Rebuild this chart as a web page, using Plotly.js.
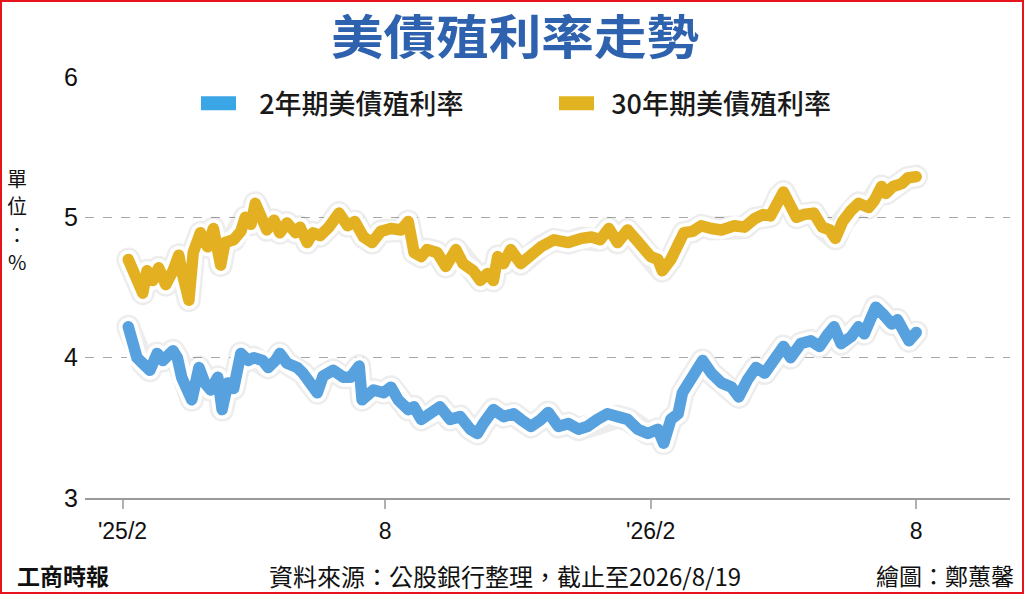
<!DOCTYPE html>
<html>
<head>
<meta charset="utf-8">
<script src="https://cdn.plot.ly/plotly-3.0.1.min.js"></script>
<style>
  html, body { margin: 0; padding: 0; background: #fff; }
  #wrap { position: relative; width: 1024px; height: 594px; }
  #chart { width: 1024px; height: 594px; }
  #frame { position: absolute; left: 0; top: 0; width: 1024px; height: 594px; box-sizing: border-box; border: 2px solid #e8141b; pointer-events: none; }
  .scatterlayer .js-line { stroke-linejoin: round !important; stroke-linecap: round !important; }
  .legend .js-line { stroke-linecap: butt !important; stroke-width: 14px !important; }
  .gtitle { transform-box: fill-box; transform-origin: center; transform: scaleX(1.12); }
</style>
</head>
<body>
<div id="wrap"><div id="chart"></div><div id="frame"></div></div>
<script>
// ---- data ----
const dates2y = [
 '2025-02-19','2025-02-22','2025-02-25','2025-03-01','2025-03-06','2025-03-11','2025-03-15','2025-03-22','2025-03-25','2025-03-28',
 '2025-04-01','2025-04-04','2025-04-09','2025-04-13','2025-04-17','2025-04-22','2025-04-25','2025-04-29','2025-05-03','2025-05-08',
 '2025-05-13','2025-05-17','2025-05-23','2025-05-27','2025-06-01','2025-06-04','2025-06-09','2025-06-16','2025-06-20','2025-06-25',
 '2025-06-30','2025-07-04','2025-07-11','2025-07-18','2025-07-23','2025-07-29','2025-07-31','2025-08-08','2025-08-15','2025-08-20',
 '2025-08-25','2025-09-01','2025-09-05','2025-09-10','2025-09-17','2025-09-23','2025-09-30','2025-10-07','2025-10-14','2025-10-19',
 '2025-10-23','2025-10-30','2025-11-06','2025-11-13','2025-11-18','2025-11-25','2025-12-02','2025-12-07','2025-12-14','2025-12-21',
 '2025-12-28','2026-01-03','2026-01-10','2026-01-17','2026-01-24','2026-01-31','2026-02-07','2026-02-14','2026-02-21','2026-02-25',
 '2026-03-02','2026-03-07','2026-03-10','2026-03-16','2026-03-21','2026-03-24','2026-03-30','2026-04-06','2026-04-13','2026-04-18',
 '2026-04-24','2026-04-30','2026-05-06','2026-05-13','2026-05-19','2026-05-24','2026-05-31','2026-06-07','2026-06-13','2026-06-19',
 '2026-06-23','2026-06-28','2026-07-05','2026-07-10','2026-07-14','2026-07-19','2026-07-22','2026-07-27','2026-08-02','2026-08-06',
 '2026-08-11','2026-08-14','2026-08-19'
];
const yield2y = [
 4.22,4.10,4.00,3.96,3.91,4.03,3.98,4.05,4.00,3.86,
 3.79,3.70,3.93,3.82,3.77,3.86,3.63,3.82,3.78,4.03,
 3.98,4.00,3.98,3.93,3.98,4.03,3.96,3.93,3.89,3.82,
 3.75,3.87,3.91,3.86,3.86,3.94,3.70,3.77,3.75,3.79,
 3.70,3.63,3.65,3.56,3.60,3.65,3.56,3.58,3.49,3.46,
 3.53,3.63,3.58,3.60,3.56,3.51,3.56,3.61,3.51,3.53,
 3.49,3.51,3.56,3.60,3.58,3.56,3.49,3.46,3.49,3.39,
 3.56,3.60,3.75,3.84,3.93,3.98,3.89,3.82,3.79,3.72,
 3.84,3.93,3.89,4.00,4.08,4.00,4.10,4.12,4.08,4.17,
 4.22,4.10,4.15,4.22,4.17,4.29,4.36,4.31,4.24,4.27,
 4.15,4.12,4.18
];
const dates30y = [
 '2025-02-19','2025-02-24','2025-03-01','2025-03-04','2025-03-08','2025-03-12','2025-03-17','2025-03-22','2025-03-26','2025-03-28',
 '2025-04-02','2025-04-05','2025-04-10','2025-04-15','2025-04-19','2025-04-24','2025-04-27','2025-05-03','2025-05-08','2025-05-11',
 '2025-05-15','2025-05-18','2025-05-23','2025-05-26','2025-05-31','2025-06-04','2025-06-09','2025-06-15','2025-06-18','2025-06-23',
 '2025-06-27','2025-07-02','2025-07-08','2025-07-15','2025-07-21','2025-07-26','2025-08-01','2025-08-07','2025-08-13','2025-08-20',
 '2025-08-27','2025-09-01','2025-09-05','2025-09-10','2025-09-14','2025-09-21','2025-09-27','2025-10-04','2025-10-09','2025-10-16',
 '2025-10-21','2025-10-26','2025-10-30','2025-11-02','2025-11-06','2025-11-11','2025-11-18','2025-11-25','2025-12-02','2025-12-11',
 '2025-12-21','2025-12-30','2026-01-06','2026-01-12','2026-01-18','2026-01-24','2026-01-31','2026-02-06','2026-02-11','2026-02-16',
 '2026-02-21','2026-02-24','2026-03-02','2026-03-07','2026-03-11','2026-03-17','2026-03-23','2026-03-30','2026-04-06','2026-04-15',
 '2026-04-22','2026-04-29','2026-05-05','2026-05-10','2026-05-16','2026-05-19','2026-05-23','2026-05-28','2026-06-02','2026-06-09',
 '2026-06-15','2026-06-20','2026-06-24','2026-06-29','2026-07-05','2026-07-10','2026-07-17','2026-07-21','2026-07-26','2026-07-29',
 '2026-08-03','2026-08-09','2026-08-13','2026-08-19'
];
const yield30y = [
 4.70,4.55,4.46,4.62,4.55,4.64,4.52,4.62,4.73,4.62,
 4.41,4.75,4.89,4.79,4.92,4.66,4.82,4.84,4.90,5.00,
 4.95,5.10,5.00,4.91,4.98,4.89,4.96,4.89,4.93,4.82,
 4.89,4.87,4.93,5.03,4.94,4.97,4.86,4.82,4.90,4.92,
 4.91,4.97,4.75,4.72,4.77,4.75,4.65,4.77,4.67,4.62,
 4.55,4.60,4.55,4.72,4.67,4.77,4.67,4.74,4.79,4.84,
 4.82,4.85,4.86,4.84,4.92,4.82,4.91,4.84,4.77,4.72,
 4.70,4.62,4.70,4.79,4.89,4.90,4.94,4.92,4.91,4.94,
 4.93,4.99,5.02,5.01,5.15,5.18,5.10,5.00,5.02,5.03,
 4.93,4.91,4.85,4.97,5.05,5.10,5.07,5.12,5.22,5.17,
 5.22,5.24,5.28,5.29
];
const seriesNames = ['2年期美債殖利率', '30年期美債殖利率'];
const tickDates = ['2025-02-15', '2025-08-16', '2026-02-16', '2026-08-19'];
const tickLabels = ["'25/2", '8', "'26/2", '8'];
const yTicks = [3, 4, 5, 6];
const unitChars = ['單', '位', '：', '%'];

// ---- styling ----
const BLUE = '#56a1de';
const GOLD = '#e2b020';
const CJK = '"Noto Sans CJK TC", "Noto Sans CJK SC", sans-serif';
const NUM = '"Liberation Sans Narrow", "Liberation Sans", Arial, sans-serif';

function layered(x, y, color) {
  const base = {x: x, y: y, mode: 'lines', type: 'scatter', hoverinfo: 'skip', showlegend: false};
  return [
    Object.assign({}, base, {line: {color: 'rgba(0,0,0,0.07)', width: 24}}),
    Object.assign({}, base, {line: {color: '#ffffff', width: 19}}),
    Object.assign({}, base, {line: {color: color, width: 11.5}})
  ];
}

const traces = [].concat(
  layered(dates2y, yield2y, BLUE),
  layered(dates30y, yield30y, GOLD),
  [
    {x: [null], y: [null], mode: 'lines', type: 'scatter', name: '\u00a0\u00a0\u00a0' + seriesNames[0], line: {color: '#3aa6e6', width: 14}, showlegend: true},
    {x: [null], y: [null], mode: 'lines', type: 'scatter', name: '\u00a0\u00a0' + seriesNames[1], line: {color: '#e1b320', width: 14}, showlegend: true}
  ]
);

const unitY = [0.760, 0.694, 0.627, 0.561];
const footY = -0.184;
const annotations = unitChars.map((c, i) => ({
  xref: 'paper', yref: 'paper', x: -0.073, y: unitY[i], xanchor: 'center', yanchor: 'middle', showarrow: false,
  text: c, font: {family: CJK, size: 20, color: '#111'}
})).concat([
  {xref: 'paper', yref: 'paper', x: -0.076, y: footY, xanchor: 'left', yanchor: 'middle', showarrow: false,
   text: '<b>工商時報</b>', font: {family: '"Noto Sans CJK TC", serif', size: 23, color: '#111'}},
  {xref: 'paper', yref: 'paper', x: 0.454, y: footY, xanchor: 'center', yanchor: 'middle', showarrow: false,
   text: '資料來源：公股銀行整理，截止至2026/8/19', font: {family: CJK, size: 24, color: '#111'}},
  {xref: 'paper', yref: 'paper', x: 1.006, y: footY, xanchor: 'right', yanchor: 'middle', showarrow: false,
   text: '繪圖：鄭蕙馨', font: {family: CJK, size: 23, color: '#111'}}
]);

const layout = {
  width: 1024, height: 594,
  margin: {l: 85, r: 14, t: 77, b: 96},
  paper_bgcolor: '#ffffff', plot_bgcolor: '#ffffff',
  title: {
    text: '美債殖利率走勢',
    x: 0.503, xanchor: 'center', y: 0.937, yanchor: 'middle',
    font: {family: CJK, size: 47, color: '#2f62ae', weight: 700}
  },
  showlegend: true,
  legend: {
    orientation: 'h', x: 0.12, xanchor: 'left', y: 0.995, yanchor: 'top',
    font: {family: CJK, size: 27, color: '#1a1a1a', weight: 500},
    itemwidth: 35,
    entrywidth: 308, bgcolor: 'rgba(0,0,0,0)', traceorder: 'normal'
  },
  xaxis: {
    type: 'date', range: ['2025-01-20', '2026-10-23'],
    tickmode: 'array', tickvals: tickDates, ticktext: tickLabels,
    showgrid: false, zeroline: false,
    showline: true, linecolor: '#9a9a9a', linewidth: 2,
    ticks: 'outside', ticklen: 9, tickwidth: 2, tickcolor: '#b0b0b0',
    ticklabelstandoff: 2,
    tickfont: {family: NUM, size: 23, color: '#111'}
  },
  yaxis: {
    range: [3, 6], tickmode: 'array', tickvals: yTicks,
    showgrid: true, gridcolor: '#a8a8a8', gridwidth: 1.5, griddash: 'dash',
    zeroline: false, showline: false, ticks: '',
    ticklabelstandoff: 6,
    tickfont: {family: NUM, size: 25, color: '#111'}
  },
  annotations: annotations
};

Plotly.newPlot('chart', traces, layout, {staticPlot: true, displayModeBar: false});
</script>
</body>
</html>
